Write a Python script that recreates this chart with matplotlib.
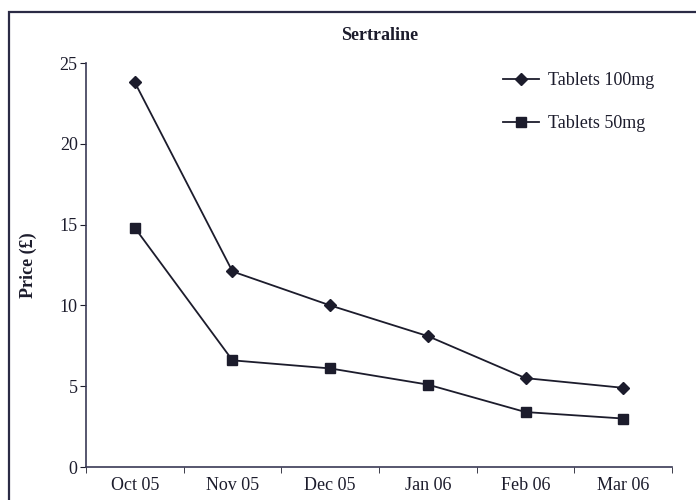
import matplotlib.pyplot as plt
from matplotlib.patches import Rectangle

months = ["Oct 05", "Nov 05", "Dec 05", "Jan 06", "Feb 06", "Mar 06"]
tablets_100mg = [23.8, 12.1, 10.0, 8.1, 5.5, 4.9]
tablets_50mg = [14.8, 6.6, 6.1, 5.1, 3.4, 3.0]

plt.rcParams['font.family'] = ['Liberation Serif', 'DejaVu Serif']

fig = plt.figure(figsize=(6.96, 5.0), dpi=100)
fig.patch.set_facecolor('white')

# border of the scanned figure box (runs off the right and bottom edges)
fig.patches.append(Rectangle((9 / 696, -0.05), 1.1, 1 - 12 / 500 + 0.05,
                             transform=fig.transFigure, fill=False,
                             edgecolor='#2b2b45', linewidth=1.6))

ax = fig.add_axes([86 / 696, 1 - 467 / 500, (672 - 86) / 696, (467 - 63) / 500])
ink = '#1c1c2c'
x = range(len(months))
ax.plot(x, tablets_100mg, color=ink, lw=1.3, marker='D', ms=6, label='Tablets 100mg')
ax.plot(x, tablets_50mg, color=ink, lw=1.3, marker='s', ms=7, label='Tablets 50mg')

ax.set_xlim(-0.5, len(months) - 0.5)
ax.set_ylim(0, 25)
ax.set_yticks([0, 5, 10, 15, 20, 25])
ax.set_xticks(list(x))
ax.set_xticklabels(months)
ax.set_xticks([i - 0.5 for i in range(len(months) + 1)], minor=True)
ax.tick_params(axis='x', which='major', length=0, pad=7, labelsize=13, colors=ink)
ax.tick_params(axis='x', which='minor', length=4, direction='out', color=ink)
ax.tick_params(axis='y', length=4, direction='out', labelsize=13, colors=ink, pad=2)

for s in ['top', 'right']:
    ax.spines[s].set_visible(False)
for s in ['left', 'bottom']:
    ax.spines[s].set_color('#3a3a55')
    ax.spines[s].set_linewidth(1.2)

ax.set_ylabel('Price (£)', fontsize=13, fontweight='bold', color=ink, labelpad=16)
fig.text(380 / 696, 1 - 35 / 500, 'Sertraline', ha='center', va='center',
         fontsize=13, fontweight='bold', color=ink)

fig.legend(*ax.get_legend_handles_labels(), loc='upper left',
           bbox_to_anchor=(503 / 696, 1 - 72 / 500), frameon=False,
           borderpad=0, borderaxespad=0, fontsize=13, labelspacing=1.45,
           handlelength=2.0, handletextpad=0.5, labelcolor=ink)

fig.savefig('out.png', dpi=100, facecolor='white')
